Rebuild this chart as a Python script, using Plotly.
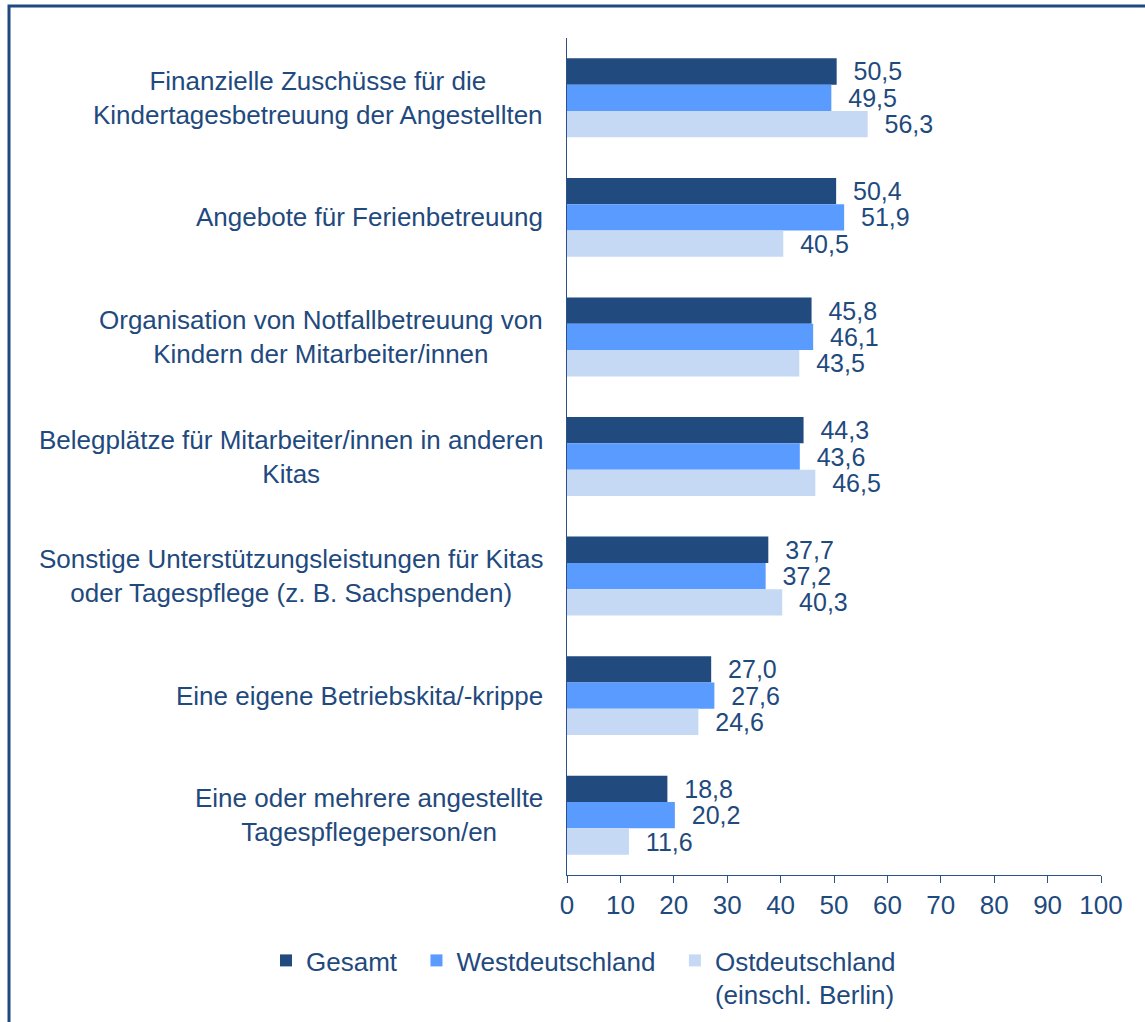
import plotly.graph_objects as go

categories = [
    "Finanzielle Zuschüsse für die<br>Kindertagesbetreuung der Angestellten",
    "Angebote für Ferienbetreuung",
    "Organisation von Notfallbetreuung von<br>Kindern der Mitarbeiter/innen",
    "Belegplätze für Mitarbeiter/innen in anderen<br>Kitas",
    "Sonstige Unterstützungsleistungen für Kitas<br>oder Tagespflege (z. B. Sachspenden)",
    "Eine eigene Betriebskita/-krippe",
    "Eine oder mehrere angestellte<br>Tagespflegeperson/en",
]
cat_ids = [f"c{i}" for i in range(len(categories))]

gesamt = [50.5, 50.4, 45.8, 44.3, 37.7, 27.0, 18.8]
west = [49.5, 51.9, 46.1, 43.6, 37.2, 27.6, 20.2]
ost = [56.3, 40.5, 43.5, 46.5, 40.3, 24.6, 11.6]

series_names = ["Gesamt", "Westdeutschland", "Ostdeutschland<br>(einschl. Berlin)"]
series_vals = [gesamt, west, ost]
colors = ["#214A7E", "#5A9BFF", "#C5D8F4"]

TXT = "#1F4A7E"
FONT = "Liberation Sans, Arial, sans-serif"
W, H = 1145, 1022
ML, MR, MT, MB = 567, 44, 38, 147
NB = "\u00a0"

px2x = lambda p: (p - ML) / (W - ML - MR)
py2y = lambda p: 1 - (p - MT) / (H - MT - MB)

fig = go.Figure()
for i, (name, vals, col) in enumerate(zip(series_names, series_vals, colors)):
    legend_name = name if i == 2 else name + NB * 2
    fig.add_trace(go.Bar(
        y=cat_ids, x=vals, name=legend_name, orientation="h",
        marker=dict(color=col, line=dict(width=0)),
        text=[(NB * 2 + f"{v:.1f}".replace(".", ",")) for v in vals],
        textposition="outside", constraintext="none", cliponaxis=False,
        textfont=dict(family=FONT, size=25, color=TXT),
        hoverinfo="skip",
    ))

for cid, lab in zip(cat_ids, categories):
    fig.add_annotation(
        x=0, xref="paper", y=cid, yref="y", text=lab, showarrow=False,
        xanchor="right", yanchor="middle", align="center", xshift=-22,
        font=dict(family=FONT, size=26, color=TXT),
    )

# frame
fig.add_shape(type="rect", xref="paper", yref="paper",
              x0=px2x(9), x1=px2x(W + 20), y0=py2y(H + 20), y1=py2y(6),
              line=dict(color="#1F4A7E", width=3), layer="above")

fig.update_layout(
    width=W, height=H,
    margin=dict(l=ML, r=MR, t=MT, b=MB, autoexpand=False),
    paper_bgcolor="white", plot_bgcolor="white",
    barmode="group", bargap=0.34, bargroupgap=0,
    font=dict(family=FONT, size=26, color=TXT),
    showlegend=True,
    legend=dict(orientation="h", xref="paper", yref="paper",
                x=px2x(266), xanchor="left", y=py2y(937), yanchor="top",
                font=dict(family=FONT, size=26, color=TXT),
                valign="top", traceorder="normal", itemclick=False),
    xaxis=dict(range=[0, 100], dtick=10, tick0=0, showgrid=False, zeroline=False,
               showline=True, linecolor="#2B5185", linewidth=1.3,
               ticks="outside", ticklen=7, tickcolor="#2B5185",
               tickfont=dict(family=FONT, size=26, color=TXT)),
    yaxis=dict(autorange="reversed", showgrid=False, zeroline=False,
               showline=True, linecolor="#2B5185", linewidth=1.3,
               showticklabels=False, ticks=""),
)

fig.write_html("out.html", config={"displayModeBar": False},
               post_script="document.body.style.margin='0';")
